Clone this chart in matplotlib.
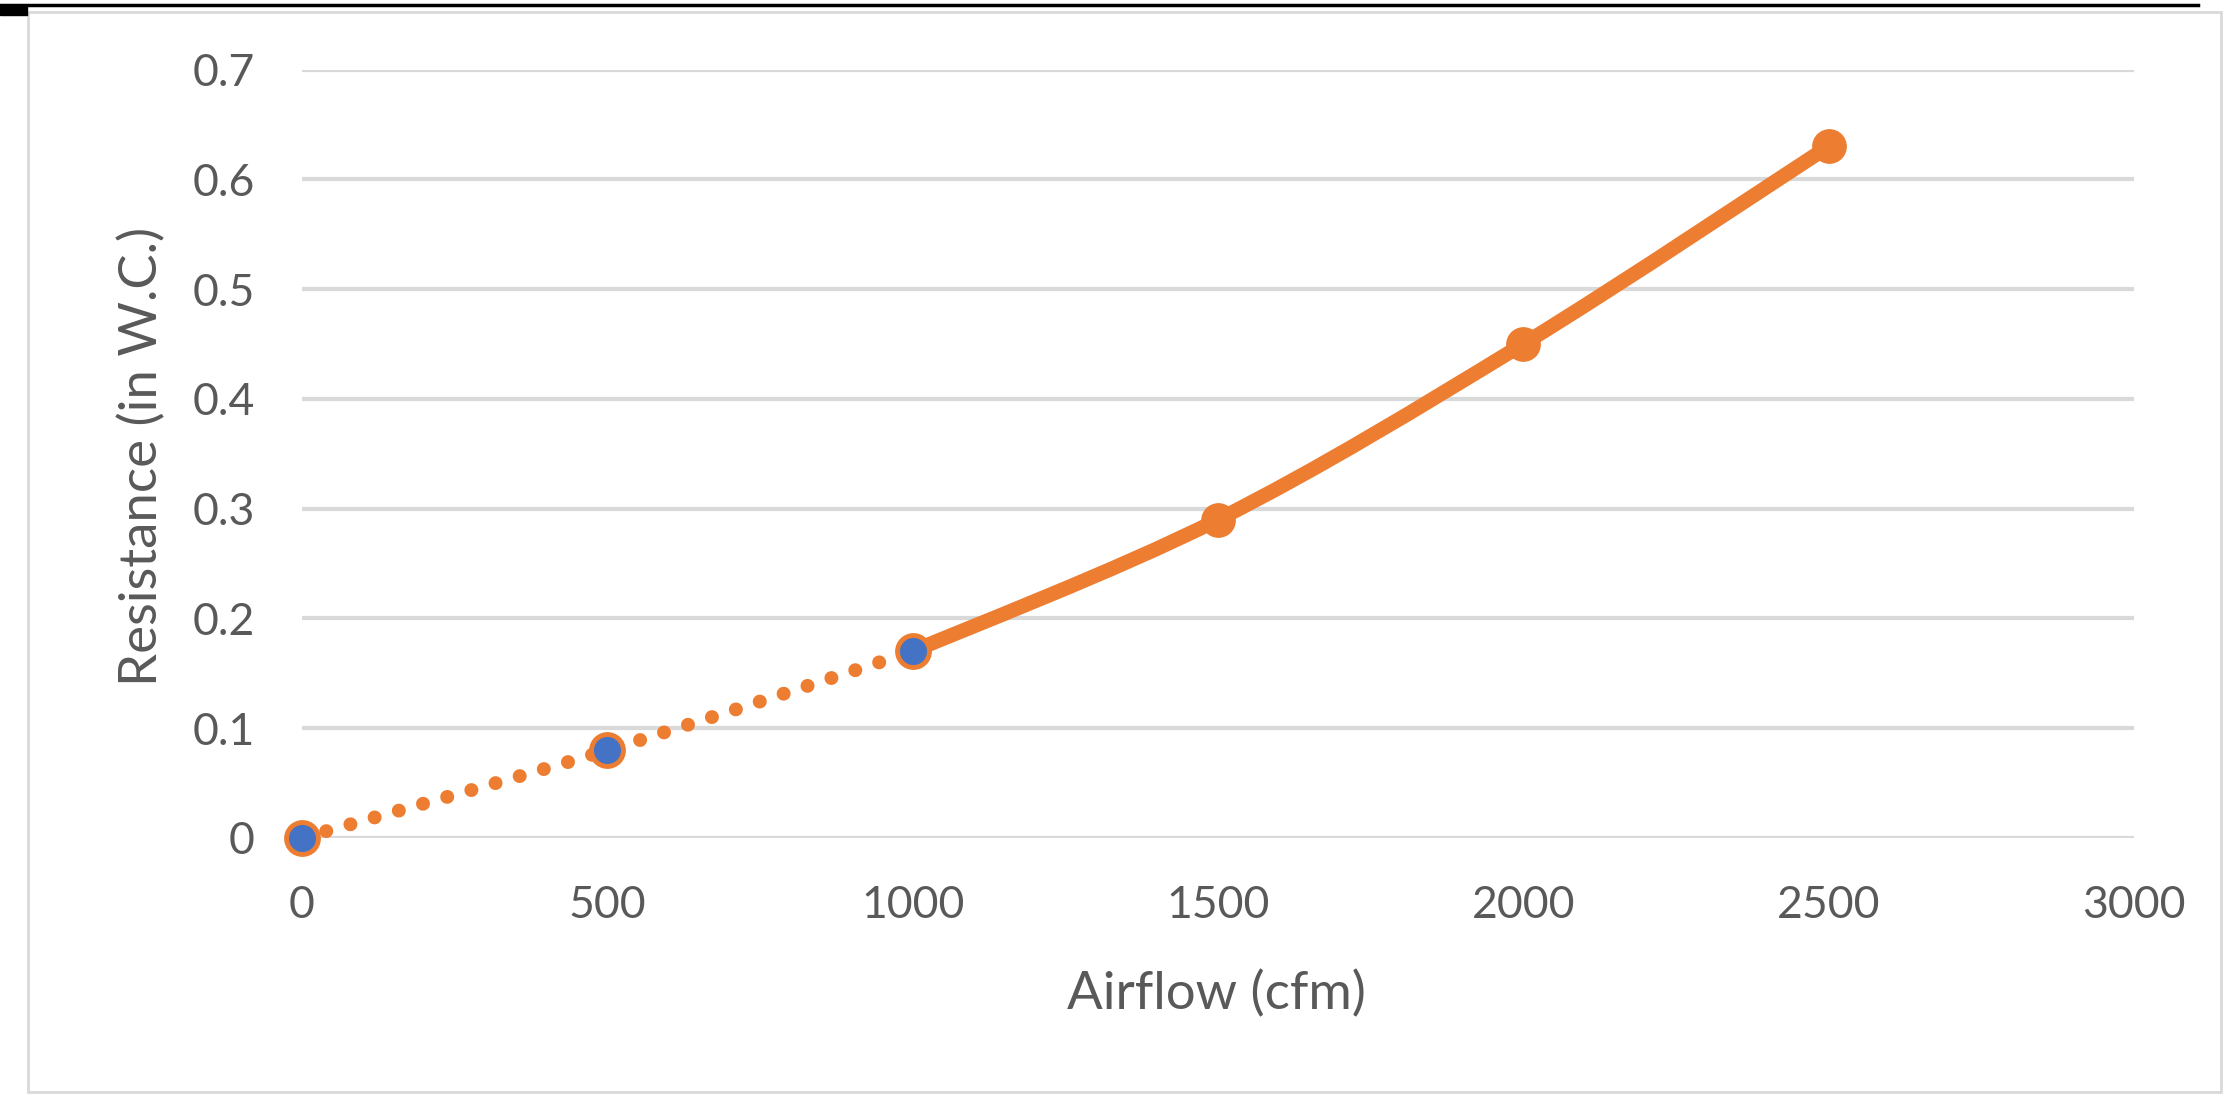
import matplotlib
matplotlib.use("Agg")
import matplotlib.pyplot as plt
import matplotlib.transforms as mtransforms
from matplotlib.path import Path
from matplotlib.patches import PathPatch, Rectangle
from matplotlib.lines import Line2D

plt.rcParams["font.family"] = ["Lato", "DejaVu Sans"]

# ---- data ----
airflow = [0, 500, 1000, 1500, 2000, 2500]
resistance = [0, 0.08, 0.17, 0.29, 0.45, 0.63]
measured_n = 3          # first three points: blue markers, dotted line
x_ticks = [0, 500, 1000, 1500, 2000, 2500, 3000]
y_ticks = [0, 0.1, 0.2, 0.3, 0.4, 0.5, 0.6, 0.7]

ORANGE = "#ED7D31"
BLUE = "#4472C4"
GRID = "#D9D9D9"
TEXT = "#595959"

W, H = 2223, 1094
fig = plt.figure(figsize=(W / 100, H / 100), dpi=100)
ax = fig.add_axes([302 / W, 1 - 838 / H, (2134 - 302) / W, (838 - 69.5) / H])


def smooth_path(xs, ys):
    # Catmull-Rom style bezier, like a smoothed spreadsheet line
    pts = list(zip(xs, ys))
    verts = [pts[0]]
    codes = [Path.MOVETO]
    for i in range(len(pts) - 1):
        p0 = pts[i - 1] if i > 0 else pts[i]
        p1 = pts[i]
        p2 = pts[i + 1]
        p3 = pts[i + 2] if i + 2 < len(pts) else pts[i + 1]
        c1 = (p1[0] + (p2[0] - p0[0]) / 6, p1[1] + (p2[1] - p0[1]) / 6)
        c2 = (p2[0] - (p3[0] - p1[0]) / 6, p2[1] - (p3[1] - p1[1]) / 6)
        verts += [c1, c2, p2]
        codes += [Path.CURVE4] * 3
    return Path(verts, codes)


# dotted part
dotted = PathPatch(smooth_path(airflow[:measured_n], resistance[:measured_n]),
                   fill=False, edgecolor=ORANGE, linewidth=10,
                   linestyle=(0, (0.01, 1.8)), capstyle="round", zorder=3)
ax.add_patch(dotted)

# solid part
solid = PathPatch(smooth_path(airflow[measured_n - 1:], resistance[measured_n - 1:]),
                  fill=False, edgecolor=ORANGE, linewidth=10.5,
                  capstyle="round", joinstyle="round", zorder=3)
ax.add_patch(solid)

ax.plot(airflow[measured_n:], resistance[measured_n:], "o", color=ORANGE,
        markersize=24, zorder=4, clip_on=False)
ax.plot(airflow[:measured_n], resistance[:measured_n], "o", color=BLUE,
        markeredgecolor=ORANGE, markeredgewidth=3.5, markersize=23, zorder=5,
        clip_on=False)

ax.set_xlim(0, 3000)
ax.set_ylim(0, 0.7)
ax.set_xticks(x_ticks)
ax.set_yticks(y_ticks)
ax.set_yticklabels(["0" if v == 0 else f"{v:.1f}" for v in y_ticks])
ax.set_xticklabels([str(v) for v in x_ticks])
ax.tick_params(axis="both", length=0, labelsize=32, colors=TEXT, pad=34)
ax.grid(axis="y", color=GRID, linewidth=3)
ax.set_axisbelow(True)
for s in ax.spines.values():
    s.set_visible(False)
dotted.set_clip_on(False)
solid.set_clip_on(False)

fig.text(1216 / W, 1 - 994 / H, "Airflow (cfm)", ha="center", va="center",
         fontsize=38, color=TEXT)
ylab_tr = mtransforms.blended_transform_factory(fig.transFigure, ax.transData)
ax.text(142 / W, 0.348, "Resistance (in W.C.)", transform=ylab_tr,
        ha="center", va="center", rotation=90, fontsize=38, color=TEXT)

# chart frame
fig.patches.append(Rectangle((28 / W, 2 / H), (W - 30) / W, (H - 14) / H,
                             transform=fig.transFigure, fill=False,
                             edgecolor="#D9D9D9", linewidth=2))
fig.lines.append(Line2D([0, 2198 / W], [1 - 5 / H, 1 - 5 / H],
                        transform=fig.transFigure, color="black", linewidth=2.5))
fig.patches.append(Rectangle((0, 1 - 15 / H), 27 / W, 10 / H,
                             transform=fig.transFigure, color="black"))

fig.savefig("out.png", dpi=100)
